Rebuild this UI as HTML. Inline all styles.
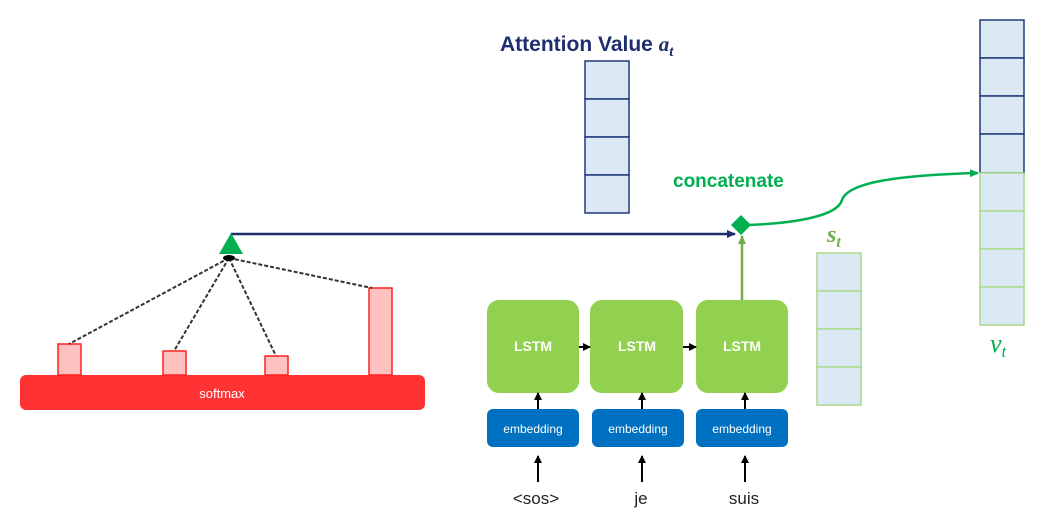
<!DOCTYPE html>
<html><head><meta charset="utf-8"><style>
body{margin:0;background:#fff;width:1048px;height:524px;overflow:hidden}
text{font-family:"Liberation Sans","DejaVu Sans",sans-serif}
</style></head><body>
<svg width="1048" height="524" viewBox="0 0 1048 524" xmlns="http://www.w3.org/2000/svg">
<defs>
<marker id="ab" markerWidth="8" markerHeight="8" refX="7" refY="4" orient="auto" markerUnits="userSpaceOnUse"><path d="M0,0 L8,4 L0,8 z" fill="#000"/></marker>
<marker id="an" markerWidth="9" markerHeight="8" refX="8" refY="4" orient="auto" markerUnits="userSpaceOnUse"><path d="M0,0 L9,4 L0,8 z" fill="#1f2e6e"/></marker>
<marker id="ag" markerWidth="9" markerHeight="8" refX="8" refY="4" orient="auto" markerUnits="userSpaceOnUse"><path d="M0,0 L9,4 L0,8 z" fill="#00b050"/></marker>
<marker id="alg" markerWidth="9" markerHeight="8" refX="8" refY="4" orient="auto" markerUnits="userSpaceOnUse"><path d="M0,0 L9,4 L0,8 z" fill="#70ad47"/></marker>
</defs>
<rect x="20" y="375" width="405" height="35" rx="6" fill="#ff3333"/>
<text x="222" y="398" font-size="13" fill="#fff" text-anchor="middle">softmax</text>
<g fill="#ffc0c0" stroke="#ff2020" stroke-width="1.5">
<rect x="58" y="344" width="23" height="31"/>
<rect x="163" y="351" width="23" height="24"/>
<rect x="265" y="356" width="23" height="19"/>
<rect x="369" y="288" width="23" height="87"/>
</g>
<g stroke="#333" stroke-width="2" stroke-dasharray="4,2" fill="none">
<line x1="229" y1="258" x2="69" y2="344"/>
<line x1="229" y1="258" x2="174" y2="351"/>
<line x1="229" y1="258" x2="276" y2="356"/>
<line x1="229" y1="258" x2="372" y2="288"/>
</g>
<ellipse cx="229" cy="258" rx="6" ry="3" fill="#000"/>
<line x1="231" y1="234" x2="735" y2="234" stroke="#1f2e6e" stroke-width="2.5" marker-end="url(#an)"/>
<polygon points="231,233 243,254 219,254" fill="#00b050"/>
<text x="500" y="51" font-size="21" font-weight="bold" fill="#1f2e6e">Attention Value <tspan style="font-family:'Liberation Serif',serif;font-style:italic">a</tspan><tspan style="font-family:'Liberation Serif',serif;font-style:italic" font-size="15" dy="5">t</tspan></text>
<g fill="#dde8f5" stroke="#1f3a7a" stroke-width="1.5">
<rect x="585" y="61" width="44" height="38"/><rect x="585" y="99" width="44" height="38"/>
<rect x="585" y="137" width="44" height="38"/><rect x="585" y="175" width="44" height="38"/>
</g>
<g fill="#dde8f5" stroke="#1f3a7a" stroke-width="1.5">
<rect x="980" y="20" width="44" height="38"/><rect x="980" y="58" width="44" height="38"/>
<rect x="980" y="96" width="44" height="38"/><rect x="980" y="134" width="44" height="39"/>
</g>
<g fill="#dde8f5" stroke="#a9d98a" stroke-width="1.5">
<rect x="980" y="173" width="44" height="38"/><rect x="980" y="211" width="44" height="38"/>
<rect x="980" y="249" width="44" height="38"/><rect x="980" y="287" width="44" height="38"/>
</g>
<text x="990" y="352" font-size="26" style="font-family:'Liberation Serif',serif;font-style:italic" fill="#00b050">v<tspan font-size="17" dy="5">t</tspan></text>
<g fill="#dde8f5" stroke="#a9d98a" stroke-width="1.5">
<rect x="817" y="253" width="44" height="38"/><rect x="817" y="291" width="44" height="38"/>
<rect x="817" y="329" width="44" height="38"/><rect x="817" y="367" width="44" height="38"/>
</g>
<text x="827" y="242" font-size="24" font-weight="bold" style="font-family:'Liberation Serif',serif;font-style:italic" fill="#70ad47">s<tspan font-size="16" dy="5">t</tspan></text>
<text x="673" y="187" font-size="19" font-weight="bold" fill="#00b050">concatenate</text>
<path d="M748,225 C800,223 838,215 842,200 C848,182 900,175 978,173" fill="none" stroke="#00b050" stroke-width="2.5" marker-end="url(#ag)"/>
<line x1="742" y1="300" x2="742" y2="236" stroke="#70ad47" stroke-width="2.5" marker-end="url(#alg)"/>
<polygon points="741,215 751,225 741,235 731,225" fill="#00b050"/>
<g fill="#92d050">
<rect x="487" y="300" width="92" height="93" rx="12"/>
<rect x="590" y="300" width="93" height="93" rx="12"/>
<rect x="696" y="300" width="92" height="93" rx="12"/>
</g>
<g font-size="14" font-weight="bold" fill="#fff" text-anchor="middle">
<text x="533" y="351">LSTM</text><text x="637" y="351">LSTM</text><text x="742" y="351">LSTM</text>
</g>
<g stroke="#000" stroke-width="2" marker-end="url(#ab)">
<line x1="579" y1="347" x2="590" y2="347"/>
<line x1="683" y1="347" x2="696" y2="347"/>
<line x1="538" y1="409" x2="538" y2="393"/>
<line x1="642" y1="409" x2="642" y2="393"/>
<line x1="745" y1="409" x2="745" y2="393"/>
<line x1="538" y1="482" x2="538" y2="456"/>
<line x1="642" y1="482" x2="642" y2="456"/>
<line x1="745" y1="482" x2="745" y2="456"/>
</g>
<g fill="#0070c0">
<rect x="487" y="409" width="92" height="38" rx="6"/>
<rect x="592" y="409" width="92" height="38" rx="6"/>
<rect x="696" y="409" width="92" height="38" rx="6"/>
</g>
<g font-size="12" fill="#fff" text-anchor="middle">
<text x="533" y="433">embedding</text><text x="638" y="433">embedding</text><text x="742" y="433">embedding</text>
</g>
<g font-size="17" fill="#222" text-anchor="middle">
<text x="536" y="504">&lt;sos&gt;</text><text x="641" y="504">je</text><text x="744" y="504">suis</text>
</g>
</svg>
</body></html>
